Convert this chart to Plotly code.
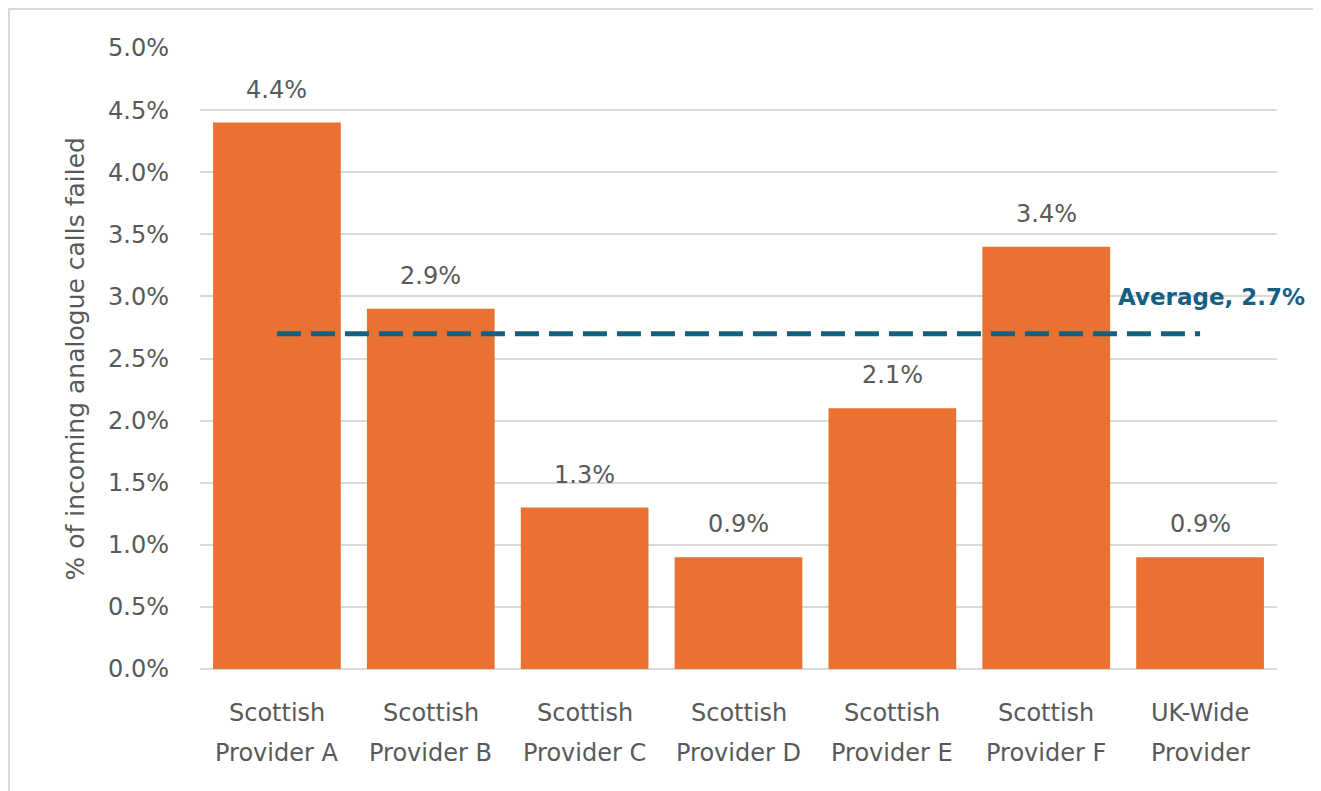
import plotly.graph_objects as go

categories = ["Scottish<br>Provider A", "Scottish<br>Provider B", "Scottish<br>Provider C",
              "Scottish<br>Provider D", "Scottish<br>Provider E", "Scottish<br>Provider F",
              "UK-Wide<br>Provider"]
failed_pct = [0.044, 0.029, 0.013, 0.009, 0.021, 0.034, 0.009]
average_pct = 0.027
y_ticks = [0.0, 0.005, 0.01, 0.015, 0.02, 0.025, 0.03, 0.035, 0.04, 0.045, 0.05]

FONT = "DejaVu Sans, Liberation Sans, Arial, sans-serif"
GREY = "#595959"
BAR = "#E97132"
AVG = "#156082"

W, H = 1313, 783
L, R, T, B = 192, 44, 40, 122
PW, PH = W - L - R, H - T - B

fig = go.Figure()
fig.add_trace(go.Bar(x=categories, y=failed_pct, marker=dict(color=BAR, line=dict(width=0)),
                     hoverinfo="skip", showlegend=False))
fig.add_trace(go.Scatter(x=[categories[0], categories[-1]], y=[average_pct, average_pct],
                         mode="lines", line=dict(color=AVG, width=5, dash="24px,10px"),
                         hoverinfo="skip", showlegend=False))

annotations = []
for c, v in zip(categories, failed_pct):
    annotations.append(dict(x=c, y=v, xref="x", yref="y", text=f"{v*100:.1f}%", showarrow=False,
                            yanchor="middle", yshift=33, font=dict(family=FONT, size=24, color=GREY)))
    lines = c.split("<br>")
    for i, line in enumerate(lines):
        annotations.append(dict(x=c, y=0, xref="x", yref="y", text=line, showarrow=False,
                                yanchor="middle", yshift=-44 - 40 * i,
                                font=dict(family=FONT, size=24, color=GREY)))
annotations.append(dict(x=categories[-1], y=average_pct, xref="x", yref="y",
                        text=f"<b>Average, {average_pct*100:.1f}%</b>", showarrow=False,
                        xanchor="center", yanchor="middle", xshift=11, yshift=37,
                        font=dict(family=FONT, size=23, color=AVG)))
annotations.append(dict(x=-125 / PW, y=0.5, xref="paper", yref="paper",
                        text="% of incoming analogue calls failed", textangle=-90, showarrow=False,
                        xanchor="center", yanchor="middle", font=dict(family=FONT, size=25, color=GREY)))

fig.update_layout(
    width=W, height=H,
    margin=dict(l=L, r=R, t=T, b=B, autoexpand=False),
    paper_bgcolor="white", plot_bgcolor="white",
    bargap=0.17,
    annotations=annotations,
    shapes=[dict(type="rect", xref="paper", yref="paper",
                 x0=(0.5 - L) / PW, x1=(1308 - L) / PW, y0=(T + PH - 950) / PH, y1=(T + PH - 0.5) / PH,
                 line=dict(color="#D9D9D9", width=3), fillcolor="rgba(0,0,0,0)", layer="below")],
    xaxis=dict(range=[-0.5, len(categories) - 0.5], autorange=False, showticklabels=False,
               showgrid=False, zeroline=False, showline=False, ticks=""),
    yaxis=dict(range=[0, 0.05], autorange=False, tickvals=y_ticks, tickformat=".1%", showgrid=True,
               gridcolor="#D9D9D9", gridwidth=1.5, zeroline=True, zerolinecolor="#D9D9D9",
               zerolinewidth=1.5, showline=False, ticks="", ticklabelstandoff=30,
               tickfont=dict(family=FONT, size=24, color=GREY)),
)
fig.write_html("out.html")
